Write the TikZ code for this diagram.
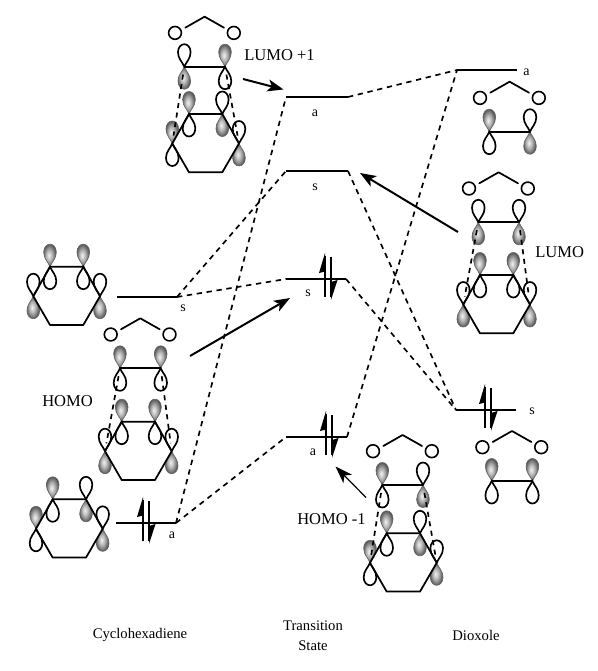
\documentclass[tikz,border=0pt]{standalone}
\usepackage{fontspec}
\setmainfont{Liberation Serif}
\usetikzlibrary{arrows.meta}
\pgfdeclareradialshading{lobeshade}{\pgfpoint{-5bp}{0bp}}{color(0bp)=(black!5); color(12bp)=(black!30); color(26bp)=(black!68); color(50bp)=(black!88)}
\tikzset{
  px/.style={x=0.75pt,y=-0.75pt},
  bondline/.style={line width=1.3pt,line cap=round,line join=round},
  lobeopen/.style={draw=black,line width=1.25pt,fill=white},
  lobefill/.style={draw=black!60,line width=0.5pt,shading=lobeshade},
  oxygen/.style={draw=black,line width=1.2pt,fill=white},
  elevel/.style={line width=1.4pt},
  corr/.style={line width=1.25pt,dash pattern=on 4pt off 3.5pt},
  orbdash/.style={line width=1.25pt,dash pattern=on 3.8pt off 3.4pt,shorten <=6pt,shorten >=6pt},
  bigarrow/.style={line width=1.5pt,-{Stealth[length=12pt,width=9pt,inset=3pt]}},
  thinarrow/.style={line width=0.9pt,-{Stealth[length=13pt,width=9pt,inset=3.5pt]}},
  elec/.style={line width=1.3pt},
  barb/.style={fill=black,draw=none},
  lab/.style={font=\fontsize{12.4}{14}\selectfont,inner sep=0pt},
  captext/.style={font=\fontsize{11}{15}\selectfont,inner sep=0pt,align=center},
  sym/.style={font=\fontsize{10.5}{12}\selectfont,inner sep=0pt},
}
% teardrop pointing up (s=1) or down (s=-1) from the atom at (x,y)
\newcommand\tear[4]{\path[#4,shift={(#1,#2)},yscale=#3]
  (0,0) .. controls (-2,-5) and (-6.3,-8) .. (-6.3,-14.5)
  .. controls (-6.3,-19.5) and (-3.2,-22.5) .. (0,-22.5)
  .. controls (3.2,-22.5) and (6.3,-19.5) .. (6.3,-14.5)
  .. controls (6.3,-8) and (2,-5) .. (0,0) -- cycle;}
\newcommand\lobesF[2]{\tear{#1}{#2}{1}{lobefill}\tear{#1}{#2}{-1}{lobeopen}}
\newcommand\lobesO[2]{\tear{#1}{#2}{1}{lobeopen}\tear{#1}{#2}{-1}{lobefill}}
% ring: name, x, y of upper left atom, lobes of top-left, top-right, side-left, side-right
\newcommand\hexring[7]{%
  \begin{scope}[shift={(#2,#3)}]
    \coordinate (#1-a) at (0,0);
    \coordinate (#1-b) at (33.3,0);
    \coordinate (#1-sl) at (-16.7,29.5);
    \coordinate (#1-sr) at (50,29.5);
    \coordinate (#1-cl) at (0,58.3);
    \coordinate (#1-cr) at (33.3,58.3);
    \csname lobes#4\endcsname{0}{0}
    \csname lobes#5\endcsname{33.3}{0}
    \csname lobes#6\endcsname{-16.7}{29.5}
    \csname lobes#7\endcsname{50}{29.5}
    \draw[bondline] (#1-a) -- (#1-b) -- (#1-sr) -- (#1-cr) -- (#1-cl) -- (#1-sl) -- cycle;
  \end{scope}}
% dioxole: name, x, y of left carbon, lobes of left and right carbon
\newcommand\dioxole[5]{%
  \begin{scope}[shift={(#2,#3)}]
    \coordinate (#1-l) at (0,0);
    \coordinate (#1-r) at (40.7,0);
    \csname lobes#4\endcsname{0}{0}
    \csname lobes#5\endcsname{40.7}{0}
    \draw[bondline] (#1-l) -- (#1-r);
    \draw[oxygen] (-9.3,-33.8) circle (6.4);
    \draw[oxygen] (49.5,-33.8) circle (6.4);
    \draw[bondline] (1,-39) -- (20.3,-50) -- (39.7,-39);
  \end{scope}}
% electron pair at centre x, level y
\newcommand\epair[2]{%
  \begin{scope}[shift={(#1,#2)}]
    \draw[elec] (-3,18) -- (-3,-23);
    \path[barb] (-3,-26) -- (-9,-6) -- (-3,-7.5) -- cycle;
    \draw[elec] (3,-22) -- (3,18);
    \path[barb] (3,21) -- (9.5,1) -- (3,3) -- cycle;
  \end{scope}}
\begin{document}
\begin{tikzpicture}[px]
\useasboundingbox (0,0) rectangle (598,671);
\fill[white] (0,0) rectangle (598,671);

% molecules
\dioxole{da}{184.3}{66.7}{O}{F}
\hexring{ra}{189}{114}{F}{O}{F}{O}
\draw[orbdash] (da-l) -- (ra-sl);
\draw[orbdash] (da-r) -- (ra-sr);

\hexring{rb}{50}{266.7}{F}{F}{O}{O}

\dioxole{dc}{120}{368.3}{F}{F}
\hexring{rc}{121.7}{421.7}{F}{F}{O}{O}
\draw[orbdash] (dc-l) -- (rc-sl);
\draw[orbdash] (dc-r) -- (rc-sr);

\hexring{rd}{52.7}{499.3}{F}{O}{F}{O}

\dioxole{de}{382.3}{485}{F}{O}
\hexring{re}{386.7}{533.3}{F}{O}{F}{O}
\draw[orbdash] (de-l) -- (re-sl);
\draw[orbdash] (de-r) -- (re-sr);

\dioxole{df}{489.3}{131.7}{F}{O}

\dioxole{dg}{478.3}{222.3}{O}{O}
\hexring{rg}{480}{275}{F}{F}{O}{O}
\draw[orbdash] (dg-l) -- (rg-sl);
\draw[orbdash] (dg-r) -- (rg-sr);

\dioxole{dh}{491.7}{481}{F}{F}

% energy levels
\coordinate (L1a) at (117,297);   \coordinate (L1b) at (177,297);
\coordinate (L2a) at (116,523);   \coordinate (L2b) at (176,523);
\coordinate (T1a) at (286,97);    \coordinate (T1b) at (348,97);
\coordinate (T2a) at (286,171);   \coordinate (T2b) at (348,171);
\coordinate (T3a) at (286,279);   \coordinate (T3b) at (346,279);
\coordinate (T4a) at (286,437);   \coordinate (T4b) at (347,437);
\coordinate (R1a) at (457,70);    \coordinate (R1b) at (517,70);
\coordinate (R2a) at (456,410);   \coordinate (R2b) at (516,410);
\foreach \n in {L1,L2,T1,T2,T3,T4,R1,R2}{\draw[elevel] (\n a) -- (\n b);}

% correlation lines
\draw[corr] (L1b) -- (T2a);
\draw[corr] (L1b) -- (T3a);
\draw[corr] (L2b) -- (T1a);
\draw[corr] (L2b) -- (T4a);
\draw[corr] (T1b) -- (R1a);
\draw[corr] (T2b) -- (R2a);
\draw[corr] (T3b) -- (R2a);
\draw[corr] (T4b) -- (R1a);

% electrons
\epair{328}{279}
\epair{329}{437}
\epair{146}{523}
\epair{488}{410}

% orbital labels
\node[lab,anchor=west] (lumoa) at (244,55) {LUMO +1};
\node[lab,anchor=west] (lumo) at (535,252) {LUMO};
\node[lab,anchor=west] (homo) at (42,401) {HOMO};
\node[lab,anchor=west] (homob) at (297,519) {HOMO -1};

% pointers
\coordinate (pa0) at (243,79);   \coordinate (pa1) at (283.5,89.5);
\coordinate (pb0) at (458,232);  \coordinate (pb1) at (360,173);
\coordinate (pc0) at (190,356);  \coordinate (pc1) at (290,298);
\coordinate (pd0) at (366,497.5);\coordinate (pd1) at (335.5,466.5);
\draw[bigarrow] (pa0) -- (pa1);
\draw[bigarrow] (pb0) -- (pb1);
\draw[bigarrow] (pc0) -- (pc1);
\draw[thinarrow] (pd0) -- (pd1);

% symmetry labels
\node[sym] (sa) at (315,113) {a};
\node[sym] (sb) at (315,187) {s};
\node[sym] (sc) at (308,293) {s};
\node[sym] (sd) at (313,452) {a};
\node[sym] (se) at (183,308) {s};
\node[sym] (sf) at (172,535) {a};
\node[sym] (sg) at (526.5,72) {a};
\node[sym] (sh) at (532,411) {s};

% column captions
\node[captext] (c1) at (140,635) {Cyclohexadiene};
\node[captext] (c2) at (313,635.5) {Transition\\State};
\node[captext] (c3) at (476,635) {Dioxole};
\end{tikzpicture}
\end{document}
